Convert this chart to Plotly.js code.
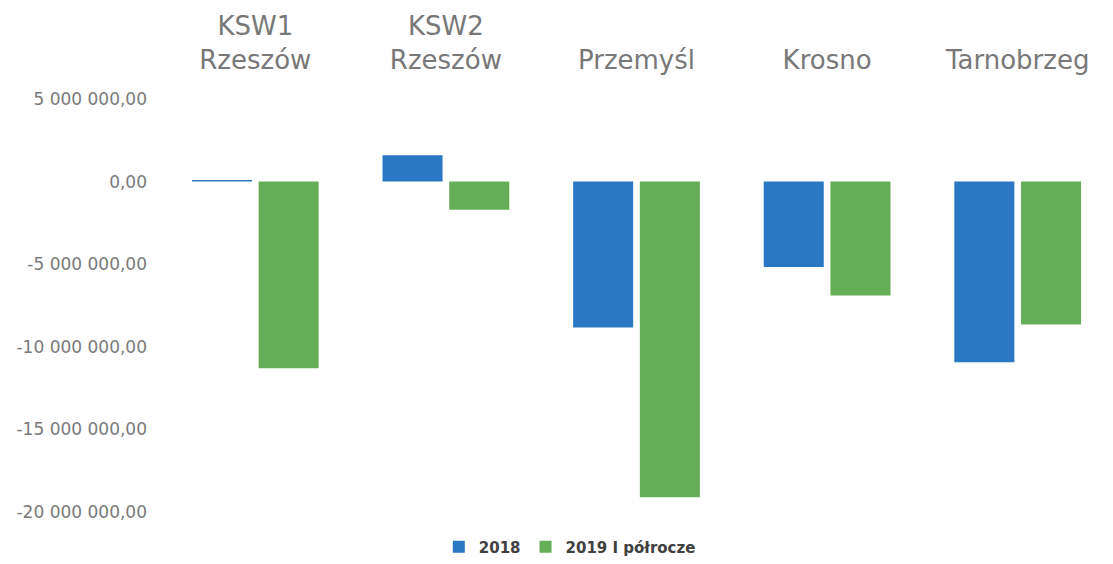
<!DOCTYPE html>
<html>
<head>
<meta charset="utf-8">
<script src="https://cdn.plot.ly/plotly-3.0.1.min.js"></script>
<style>html,body{margin:0;padding:0;background:#fff;}#chart{width:1113px;height:564px;}</style>
</head>
<body>
<div id="chart"></div>
<script>
const categories = ["KSW1<br>Rzeszów", "KSW2<br>Rzeszów", "Przemyśl", "Krosno", "Tarnobrzeg"];
const seriesNames = ["2018", "2019 I półrocze"];
const values2018 = [100000, 1600000, -8830000, -5170000, -10940000];
const values2019 = [-11300000, -1700000, -19100000, -6900000, -8650000];
const yTickVals = [5000000, 0, -5000000, -10000000, -15000000, -20000000];
const yTickText = ["5 000 000,00", "0,00", "-5 000 000,00", "-10 000 000,00", "-15 000 000,00", "-20 000 000,00"];

const traces = [
  {type: "bar", name: seriesNames[0], x: categories, y: values2018,
   marker: {color: "#2a78c4"}},
  {type: "bar", name: seriesNames[1], x: categories, y: values2019,
   marker: {color: "#66ad57"}}
];

const layout = {
  width: 1113, height: 564,
  margin: {l: 160, r: 0, t: 99, b: 49},
  paper_bgcolor: "#ffffff", plot_bgcolor: "#ffffff",
  barmode: "group", bargap: 0.3, bargroupgap: 0.1,
  showlegend: true,
  legend: {orientation: "h", x: 0.43, xanchor: "center", y: -0.045, yanchor: "top",
           font: {family: "DejaVu Sans, sans-serif", size: 15, color: "#404040", weight: "bold"},
           itemwidth: 30, tracegroupgap: 0},
  xaxis: {side: "top", type: "category", showline: false, showgrid: false, zeroline: false,
          ticks: "", ticklabelstandoff: 24,
          tickfont: {family: "DejaVu Sans, sans-serif", size: 26, color: "#787878"}},
  yaxis: {range: [-20000000, 5000000], tickvals: yTickVals, ticktext: yTickText,
          showgrid: false, zeroline: false, showline: false, ticks: "", ticklabelstandoff: 12,
          tickfont: {family: "DejaVu Sans, sans-serif", size: 17, color: "#7a7a7a"}}
};

Plotly.newPlot("chart", traces, layout, {displayModeBar: false, staticPlot: true});
</script>
</body>
</html>
